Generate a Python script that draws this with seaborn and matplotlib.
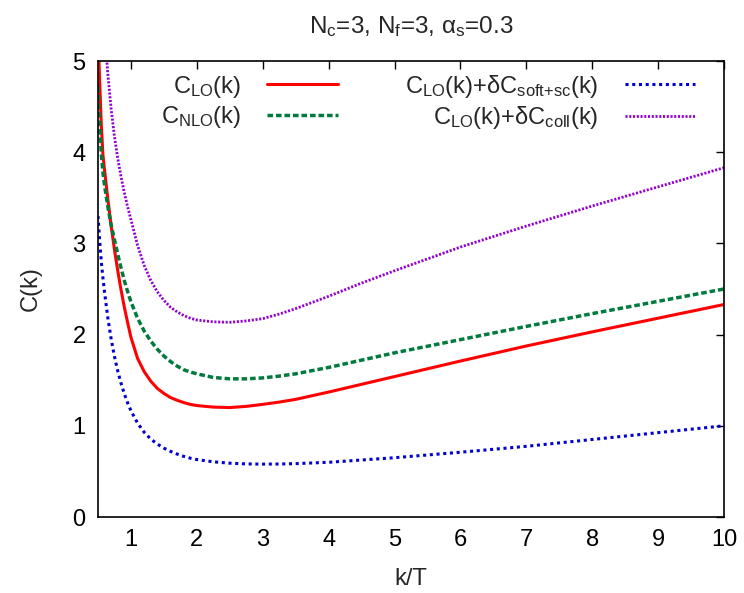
import matplotlib
matplotlib.use("Agg")
import matplotlib.pyplot as plt
import seaborn as sns
import pandas as pd

# k/T sample points shared by all curves
k = [0.5, 0.525, 0.55, 0.575, 0.6, 0.65, 0.7, 0.75, 0.8, 0.85, 0.9, 0.95,
     1.0, 1.1, 1.2, 1.3, 1.4, 1.5, 1.6, 1.7, 1.8, 1.9, 2.0, 2.25, 2.5, 2.75,
     3.0, 3.25, 3.5, 4.0, 4.5, 5.0, 6.0, 7.0, 8.0, 9.0, 10.0]

c_lo = [5.3, 4.78, 4.30, 3.97, 3.80, 3.48, 3.19, 2.93, 2.70, 2.49, 2.30, 2.13,
        1.97, 1.74, 1.595, 1.49, 1.41, 1.355, 1.31, 1.28, 1.255, 1.235, 1.222,
        1.205, 1.20, 1.213, 1.235, 1.26, 1.29, 1.37, 1.455, 1.54, 1.71, 1.875,
        2.03, 2.18, 2.33]

c_nlo = [4.72, 4.30, 3.98, 3.78, 3.63, 3.40, 3.20, 3.04, 2.88, 2.73, 2.59,
         2.47, 2.36, 2.18, 2.04, 1.93, 1.84, 1.765, 1.705, 1.655, 1.615, 1.59,
         1.57, 1.53, 1.515, 1.515, 1.525, 1.545, 1.57, 1.64, 1.72, 1.80, 1.945,
         2.09, 2.23, 2.365, 2.50]

c_soft = [3.30, 3.03, 2.80, 2.62, 2.46, 2.18, 1.95, 1.76, 1.60, 1.465, 1.35,
          1.25, 1.165, 1.03, 0.93, 0.855, 0.80, 0.755, 0.72, 0.69, 0.665, 0.645,
          0.63, 0.605, 0.59, 0.582, 0.58, 0.581, 0.585, 0.60, 0.625, 0.65, 0.71,
          0.775, 0.85, 0.925, 1.00]

c_coll = [7.2, 6.6, 6.1, 5.7, 5.33, 4.85, 4.47, 4.17, 3.93, 3.73, 3.555, 3.40,
          3.26, 2.98, 2.76, 2.595, 2.47, 2.375, 2.30, 2.25, 2.21, 2.18, 2.16,
          2.14, 2.135, 2.15, 2.175, 2.225, 2.285, 2.42, 2.565, 2.70, 2.96, 3.19,
          3.41, 3.62, 3.83]

labels = [r"$\mathrm{C_{LO}(k)}$",
          r"$\mathrm{C_{NLO}(k)}$",
          r"$\mathrm{C_{LO}(k){+}\delta C_{soft{+}sc}(k)}$",
          r"$\mathrm{C_{LO}(k){+}\delta C_{coll}(k)}$"]

x_ticks = [1, 2, 3, 4, 5, 6, 7, 8, 9, 10]
y_ticks = [0, 1, 2, 3, 4, 5]

sns.set_theme(style="white")
plt.rcParams["font.family"] = ["Liberation Sans", "DejaVu Sans"]
plt.rcParams["mathtext.fontset"] = "custom"
plt.rcParams["mathtext.rm"] = "Liberation Sans"
plt.rcParams["mathtext.it"] = "Liberation Sans"
plt.rcParams["mathtext.bf"] = "Liberation Sans:bold"

FS = 17

fig = plt.figure(figsize=(7.44, 5.93), dpi=100)
ax = fig.add_axes([98 / 744, 1 - 517 / 593, (724 - 98) / 744, (517 - 61) / 593])

styles = [
    dict(color="#ff0000", linewidth=2.2, linestyle="-"),
    dict(color="#007a3d", linewidth=2.5, linestyle=(0, (1.6, 0.85))),
    dict(color="#0000d0", linewidth=2.2, linestyle=(0, (1.0, 1.2))),
    dict(color="#9400d3", linewidth=2.0, linestyle=(0, (0.75, 0.6))),
]

for series, lab, st in zip([c_lo, c_nlo, c_soft, c_coll], labels, styles):
    df = pd.DataFrame({"k": k, "C": series})
    sns.lineplot(data=df, x="k", y="C", ax=ax, label=lab, sort=True,
                 estimator=None, **st)

ax.set_xlim(0.5, 10)
ax.set_ylim(0, 5)
ax.set_xticks(x_ticks)
ax.set_yticks(y_ticks)
ax.tick_params(direction="in", length=6, width=1, top=True, right=True,
               labelsize=FS, pad=9, colors="black")
for s in ax.spines.values():
    s.set_color("black")
    s.set_linewidth(1.2)

ax.set_xlabel("k/T", fontsize=FS, labelpad=12)
ax.set_ylabel("C(k)", fontsize=FS, labelpad=22)
ax.set_title(r"$\mathrm{N_c}$=3, $\mathrm{N_f}$=3, $\mathrm{\alpha_s}$=0.3",
             fontsize=FS + 0.5, pad=20)

ax.legend(loc="upper right", bbox_to_anchor=(0.962, 0.985), ncol=2,
          frameon=False, markerfirst=False, fontsize=FS, handlelength=3.0,
          handletextpad=1.1, columnspacing=2.85, labelspacing=0.2,
          borderaxespad=0, borderpad=0.2)

fig.savefig("out.png", dpi=100)
